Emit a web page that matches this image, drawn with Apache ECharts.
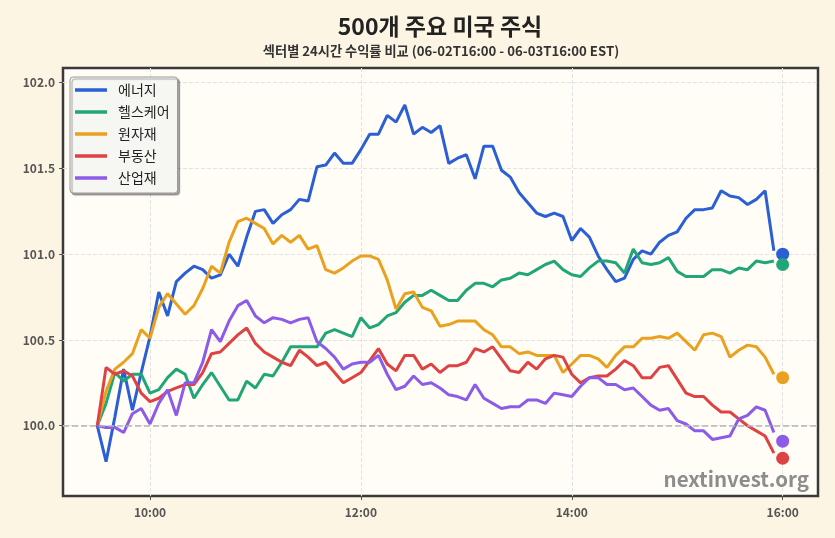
<!DOCTYPE html>
<html>
<head>
<meta charset="utf-8">
<script src="https://cdn.jsdelivr.net/npm/echarts@6/dist/echarts.min.js"></script>
<style>
  html, body { margin: 0; padding: 0; background: #fcf5e3; }
  #main { width: 835px; height: 538px; }
</style>
</head>
<body>
<div id="main"></div>
<script>
var FONT = '"Noto Sans CJK KR", "Noto Sans", sans-serif';

// 5-minute bars from 09:30 to 15:55, last close at 16:00
var startHour = 9.5;
var stepHour = 5 / 60;

var sectorNames = ['에너지', '헬스케어', '원자재', '부동산', '산업재'];
var sectorColors = ['#2b5fd6', '#21a777', '#e9a11f', '#df4242', '#8c5be8'];

var energy = [
  100.00, 99.79, 100.05, 100.33, 100.09, 100.31, 100.52, 100.78, 100.64, 100.84,
  100.89, 100.93, 100.91, 100.86, 100.88, 101.00, 100.93, 101.10, 101.25, 101.26,
  101.18, 101.23, 101.26, 101.32, 101.31, 101.51, 101.52, 101.59, 101.53, 101.53,
  101.61, 101.70, 101.70, 101.81, 101.77, 101.87, 101.70, 101.74, 101.71, 101.75,
  101.53, 101.56, 101.58, 101.44, 101.63, 101.63, 101.49, 101.45, 101.36, 101.30,
  101.24, 101.22, 101.24, 101.22, 101.08, 101.15, 101.10, 100.99, 100.91, 100.84,
  100.86, 100.97, 101.02, 101.00, 101.07, 101.11, 101.13, 101.21, 101.26, 101.26,
  101.27, 101.37, 101.34, 101.33, 101.29, 101.32, 101.37, 101.02
];
var healthcare = [
  100.00, 100.13, 100.31, 100.26, 100.30, 100.30, 100.19, 100.21, 100.28, 100.33,
  100.30, 100.16, 100.24, 100.31, 100.23, 100.15, 100.15, 100.26, 100.22, 100.30,
  100.29, 100.37, 100.46, 100.46, 100.46, 100.46, 100.54, 100.56, 100.54, 100.52,
  100.63, 100.57, 100.59, 100.64, 100.66, 100.72, 100.76, 100.76, 100.79, 100.76,
  100.73, 100.73, 100.79, 100.83, 100.83, 100.81, 100.85, 100.86, 100.89, 100.88,
  100.91, 100.94, 100.96, 100.91, 100.88, 100.87, 100.92, 100.96, 100.96, 100.95,
  100.89, 101.03, 100.95, 100.94, 100.95, 100.98, 100.90, 100.87, 100.87, 100.87,
  100.91, 100.91, 100.89, 100.92, 100.91, 100.96, 100.95, 100.96
];
var materials = [
  100.00, 100.20, 100.33, 100.37, 100.42, 100.56, 100.51, 100.69, 100.77, 100.71,
  100.65, 100.70, 100.80, 100.93, 100.89, 101.07, 101.19, 101.21, 101.18, 101.15,
  101.06, 101.11, 101.07, 101.11, 101.03, 101.05, 100.91, 100.89, 100.92, 100.96,
  100.99, 100.99, 100.97, 100.85, 100.68, 100.77, 100.78, 100.69, 100.67, 100.58,
  100.59, 100.61, 100.61, 100.61, 100.56, 100.53, 100.46, 100.46, 100.42, 100.43,
  100.41, 100.41, 100.41, 100.31, 100.36, 100.41, 100.41, 100.39, 100.34, 100.41,
  100.46, 100.46, 100.51, 100.51, 100.52, 100.51, 100.54, 100.49, 100.44, 100.53,
  100.54, 100.52, 100.40, 100.44, 100.47, 100.46, 100.40, 100.30
];
var realEstate = [
  100.00, 100.34, 100.30, 100.32, 100.29, 100.19, 100.14, 100.16, 100.20, 100.22,
  100.24, 100.24, 100.31, 100.42, 100.43, 100.48, 100.53, 100.57, 100.48, 100.43,
  100.40, 100.37, 100.35, 100.44, 100.40, 100.35, 100.37, 100.31, 100.25, 100.28,
  100.31, 100.38, 100.45, 100.36, 100.32, 100.41, 100.41, 100.33, 100.36, 100.31,
  100.35, 100.35, 100.37, 100.45, 100.43, 100.46, 100.39, 100.32, 100.31, 100.37,
  100.33, 100.39, 100.41, 100.40, 100.30, 100.25, 100.28, 100.29, 100.29, 100.33,
  100.38, 100.35, 100.28, 100.28, 100.34, 100.35, 100.27, 100.19, 100.17, 100.17,
  100.12, 100.08, 100.08, 100.04, 100.00, 99.97, 99.94, 99.84
];
var industrials = [
  100.00, 99.99, 99.99, 99.96, 100.07, 100.10, 100.01, 100.13, 100.21, 100.06,
  100.25, 100.25, 100.37, 100.56, 100.49, 100.61, 100.70, 100.73, 100.64, 100.60,
  100.63, 100.62, 100.60, 100.62, 100.63, 100.49, 100.45, 100.40, 100.33, 100.36,
  100.37, 100.37, 100.41, 100.30, 100.21, 100.23, 100.29, 100.24, 100.25, 100.22,
  100.18, 100.17, 100.15, 100.24, 100.16, 100.13, 100.10, 100.11, 100.11, 100.15,
  100.15, 100.13, 100.19, 100.18, 100.17, 100.23, 100.28, 100.28, 100.24, 100.24,
  100.21, 100.22, 100.17, 100.12, 100.09, 100.10, 100.03, 100.01, 99.97, 99.97,
  99.92, 99.93, 99.94, 100.04, 100.06, 100.11, 100.09, 99.96
];

// closing value at 16:00, drawn as a dot
var closeHour = 16;
var closeValues = [101.00, 100.94, 100.28, 99.81, 99.91];

var xTicks = [10, 12, 14, 16];
var yTicks = [100.0, 100.5, 101.0, 101.5, 102.0];

var myChart = echarts.init(document.getElementById('main'));

var allSeries = [energy, healthcare, materials, realEstate, industrials];

function toPoints(values) {
    return values.map(function (v, i) { return [startHour + i * stepHour, v]; });
}

var series = [];
allSeries.forEach(function (values, k) {
    var s = {
        name: sectorNames[k],
        type: 'line',
        data: toPoints(values),
        symbol: 'none',
        z: 3,
        lineStyle: { width: 3, color: sectorColors[k] },
        itemStyle: { color: sectorColors[k] }
    };
    if (k === 0) {
        s.markLine = {
            silent: true,
            symbol: 'none',
            label: { show: false },
            lineStyle: { type: 'dashed', color: '#b5b5b5', width: 1.5 },
            data: [{ yAxis: 100 }]
        };
    }
    series.push(s);
});
allSeries.forEach(function (values, k) {
    series.push({
        type: 'scatter',
        data: [[closeHour, closeValues[k]]],
        symbolSize: 13,
        z: 4,
        itemStyle: { color: sectorColors[k], opacity: 1 }
    });
});

option = {
    animation: false,
    backgroundColor: '#fcf5e3',
    textStyle: { fontFamily: FONT },
    graphic: [
        {
            type: 'text', x: 440, y: 15, z: 10,
            style: { text: '500개 주요 미국 주식', font: 'bold 23px ' + FONT, fill: '#222',
                     textAlign: 'center', textVerticalAlign: 'top' }
        },
        {
            type: 'text', x: 441, y: 44.5,
            style: { text: '섹터별 24시간 수익률 비교 (06-02T16:00 - 06-03T16:00 EST)', font: 'bold 13.2px ' + FONT,
                     fill: '#333', textAlign: 'center', textVerticalAlign: 'top' }
        },
        {
            type: 'text', x: 809, y: 469, z: 10,
            style: { text: 'nextinvest.org', font: 'bold 20.5px ' + FONT, fill: '#8d8d8d',
                     textAlign: 'right', textVerticalAlign: 'top' }
        }
    ],
    legend: {
        orient: 'vertical',
        left: 70,
        top: 77,
        data: sectorNames,
        icon: 'rect',
        itemWidth: 32,
        itemHeight: 3.5,
        itemGap: 8,
        padding: [6, 8, 8, 5],
        backgroundColor: '#f6f6f3',
        borderColor: '#9a9a9a',
        borderWidth: 1,
        borderRadius: 3,
        shadowColor: 'rgba(0,0,0,0.35)',
        shadowOffsetX: 2,
        shadowOffsetY: 2,
        shadowBlur: 1,
        textStyle: { fontSize: 14, color: '#222', fontFamily: FONT, padding: [0, 0, 0, 6] }
    },
    grid: {
        left: 63, right: 17, top: 68, bottom: 42,
        show: true,
        backgroundColor: '#fffdf6',
        borderColor: '#3a3a3a',
        borderWidth: 2.5
    },
    xAxis: {
        type: 'value',
        min: 9.175,
        max: 16.335,
        axisLine: { show: false },
        axisTick: { show: true, customValues: xTicks, length: 4, lineStyle: { color: '#555' } },
        axisLabel: {
            customValues: xTicks,
            formatter: function (v) { return v + ':00'; },
            color: '#555', fontWeight: 'bold', fontSize: 12, fontFamily: FONT, margin: 10
        },
        splitLine: { show: true, lineStyle: { type: 'dashed', color: '#e2e2e2' } }
    },
    yAxis: {
        type: 'value',
        min: 99.59,
        max: 102.086,
        axisLine: { show: false },
        axisTick: { show: true, customValues: yTicks, length: 4, lineStyle: { color: '#555' } },
        axisLabel: {
            customValues: yTicks,
            formatter: function (v) { return v.toFixed(1); },
            color: '#555', fontWeight: 'bold', fontSize: 12, fontFamily: FONT, margin: 8
        },
        splitLine: { show: true, lineStyle: { type: 'dashed', color: '#e2e2e2' } }
    },
    series: series
};

myChart.setOption(option);
</script>
</body>
</html>
